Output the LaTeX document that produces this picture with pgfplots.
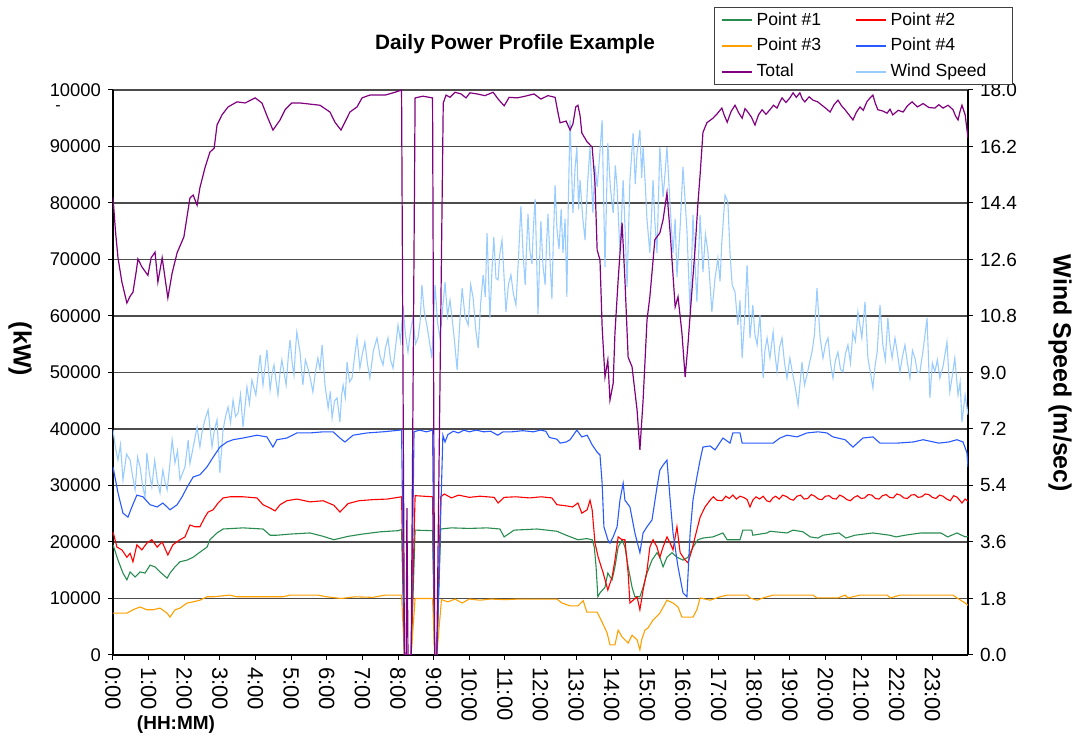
\documentclass[border=0pt]{standalone}
\usepackage{fontspec}
\setmainfont{Liberation Sans}
\usepackage{pgfplots}
\pgfplotsset{compat=1.18}
\definecolor{ptone}{RGB}{40,140,80}
\definecolor{pttwo}{RGB}{255,0,0}
\definecolor{ptthree}{RGB}{255,160,0}
\definecolor{ptfour}{RGB}{40,90,255}
\definecolor{pttotal}{RGB}{128,0,128}
\definecolor{ptwind}{RGB}{153,204,255}
\pgfplotsset{base/.style={scale only axis, width=427.5pt, height=282.5pt, xmin=0, xmax=24, scaled y ticks=false}}
\begin{document}
\begin{tikzpicture}
% ---------- grid + left/bottom axes ----------
\begin{axis}[base, ymin=0, ymax=100000,
  axis x line*=bottom, axis y line*=left,
  axis line style={-, black, line width=0.6pt},
  xtick={0,...,23},
  xticklabels={0:00,1:00,2:00,3:00,4:00,5:00,6:00,7:00,8:00,9:00,10:00,11:00,12:00,13:00,14:00,15:00,16:00,17:00,18:00,19:00,20:00,21:00,22:00,23:00},
  ytick={0,10000,20000,30000,40000,50000,60000,70000,80000,90000,100000},
  yticklabels={0,10000,20000,30000,40000,50000,60000,70000,80000,90000,10000},
  tick align=outside, major tick length=2.5pt,
  tick style={black, line width=0.5pt},
  x tick label style={rotate=-90, anchor=west, font=\fontsize{11}{13}\selectfont},
  y tick label style={font=\fontsize{9.2}{11}\selectfont},
  ymajorgrids, major grid style={black!70, line width=0.6pt},
]
\end{axis}
% ---------- wind speed (right axis) ----------
\begin{axis}[base, ymin=0, ymax=18,
  axis x line=none, axis y line*=right,
  axis line style={-, black, line width=0.6pt},
  ytick={0,1.8,3.6,5.4,7.2,9,10.8,12.6,14.4,16.2,18},
  yticklabels={0.0,1.8,3.6,5.4,7.2,9.0,10.8,12.6,14.4,16.2,18.0},
  tick align=outside, major tick length=2.5pt,
  tick style={black, line width=0.5pt},
  y tick label style={font=\fontsize{9.5}{11}\selectfont},
]
\addplot[ptwind, line width=0.55pt] table {
0.00 7.17
0.07 6.60
0.14 6.21
0.21 6.70
0.28 5.58
0.38 6.40
0.48 6.21
0.55 5.70
0.62 5.26
0.69 6.30
0.76 5.99
0.83 5.40
0.90 5.03
0.95 6.44
1.02 5.80
1.09 5.35
1.17 6.20
1.24 5.58
1.32 5.16
1.40 5.89
1.46 5.50
1.52 5.26
1.59 6.00
1.66 6.85
1.74 6.12
1.81 6.50
1.88 5.58
2.02 5.99
2.11 6.85
2.16 6.10
2.22 6.44
2.36 7.26
2.44 6.63
2.50 7.10
2.58 7.49
2.67 7.81
2.78 6.63
2.85 7.20
2.92 7.49
3.00 5.80
3.09 7.17
3.16 7.60
3.23 7.90
3.30 7.40
3.37 8.12
3.44 7.60
3.51 7.71
3.58 8.30
3.65 7.26
3.76 8.54
3.83 8.00
3.90 8.76
4.01 8.28
4.07 8.90
4.13 9.56
4.21 8.60
4.27 9.20
4.32 9.72
4.41 8.44
4.47 9.00
4.52 9.24
4.58 8.70
4.63 8.28
4.69 9.00
4.74 9.40
4.80 9.00
4.86 8.60
4.92 9.50
4.97 10.04
5.03 9.30
5.08 8.92
5.12 9.70
5.16 10.29
5.25 9.65
5.29 9.10
5.33 8.60
5.40 9.40
5.47 9.14
5.54 8.80
5.61 8.38
5.68 9.00
5.75 9.46
5.81 9.10
5.87 9.88
5.95 8.60
6.04 7.87
6.10 8.40
6.15 7.55
6.22 8.10
6.29 8.19
6.33 7.80
6.37 7.42
6.42 8.30
6.46 8.60
6.52 8.20
6.57 9.33
6.64 8.70
6.71 8.82
6.78 9.50
6.85 10.10
6.93 9.14
7.00 9.60
7.07 9.97
7.14 9.30
7.21 8.82
7.31 9.70
7.41 10.10
7.50 9.50
7.58 9.24
7.65 9.80
7.72 10.10
7.79 9.40
7.86 9.14
7.93 9.80
8.00 10.51
8.07 10.00
8.14 11.09
8.21 10.20
8.28 9.65
8.35 10.30
8.42 10.74
8.49 9.90
8.56 10.10
8.62 10.60
8.67 11.79
8.74 10.90
8.81 10.51
8.88 10.00
8.95 9.46
9.04 11.79
9.11 10.60
9.18 10.10
9.25 11.00
9.32 11.88
9.39 10.80
9.46 11.31
9.57 10.19
9.66 9.08
9.73 10.50
9.80 11.69
9.88 10.80
9.97 10.51
10.04 11.80
10.11 11.37
10.18 10.40
10.25 9.78
10.32 11.20
10.39 12.11
10.45 11.40
10.50 13.44
10.58 10.74
10.64 12.30
10.69 13.32
10.75 12.00
10.81 11.95
10.86 12.80
10.92 13.22
10.98 12.00
11.03 10.93
11.10 11.80
11.17 12.11
11.24 11.50
11.31 11.15
11.38 12.60
11.45 14.30
11.51 12.80
11.57 11.79
11.61 13.00
11.65 14.05
11.70 12.90
11.76 12.46
11.80 13.60
11.85 14.53
11.93 10.86
12.01 13.83
12.07 12.40
12.13 11.79
12.17 13.10
12.21 14.05
12.27 12.50
12.32 11.34
12.36 13.20
12.41 14.97
12.46 13.60
12.52 12.93
12.58 14.20
12.63 12.81
12.69 13.90
12.74 11.41
12.78 14.40
12.83 17.04
12.91 14.08
12.97 15.50
13.02 16.18
13.07 14.20
13.11 15.13
13.18 14.00
13.25 13.22
13.32 15.00
13.39 16.18
13.47 14.08
13.53 15.60
13.59 14.91
13.66 15.90
13.73 17.04
13.81 12.36
13.89 16.31
13.96 14.90
14.04 14.08
14.10 15.60
14.15 14.91
14.23 12.81
14.32 15.13
14.38 13.40
14.43 11.72
14.51 15.13
14.60 16.63
14.66 15.00
14.71 15.99
14.79 16.73
14.84 15.20
14.88 16.18
14.94 15.00
14.99 13.86
15.07 12.81
15.16 15.13
15.21 13.80
15.27 12.81
15.35 16.18
15.44 14.59
15.50 15.40
15.55 16.18
15.64 14.27
15.72 12.81
15.78 13.90
15.83 12.04
15.92 13.64
16.00 15.55
16.11 13.54
16.20 10.90
16.28 14.02
16.34 12.40
16.39 11.25
16.48 14.02
16.56 12.20
16.63 13.40
16.70 12.84
16.81 10.93
16.90 12.01
16.98 12.65
17.04 11.90
17.09 13.16
17.18 14.65
17.26 14.43
17.32 12.80
17.38 11.79
17.46 11.56
17.54 10.51
17.60 11.30
17.66 9.46
17.74 10.93
17.80 12.42
17.88 10.10
17.96 11.15
18.02 10.20
18.08 9.88
18.16 10.83
18.25 8.82
18.30 9.70
18.36 10.10
18.44 9.46
18.53 10.29
18.58 9.60
18.64 9.02
18.71 9.80
18.78 10.10
18.85 9.30
18.92 8.82
19.00 9.46
19.07 9.00
19.14 8.60
19.23 7.96
19.34 9.33
19.41 8.60
19.48 8.92
19.55 9.30
19.62 9.65
19.69 10.20
19.76 11.69
19.85 10.10
19.93 9.46
20.00 9.90
20.07 10.10
20.14 9.30
20.21 8.82
20.28 9.40
20.35 9.65
20.42 9.10
20.49 9.02
20.56 9.60
20.63 9.88
20.70 9.30
20.77 10.29
20.84 10.00
20.91 10.93
21.02 10.10
21.11 11.25
21.19 9.46
21.26 9.00
21.33 8.51
21.39 9.20
21.45 9.65
21.53 11.15
21.61 9.88
21.68 9.40
21.75 10.74
21.81 9.90
21.87 9.46
21.95 10.10
22.02 9.60
22.09 9.02
22.16 9.50
22.23 9.88
22.30 9.30
22.37 8.82
22.44 9.70
22.51 9.46
22.58 9.00
22.65 9.02
22.75 9.80
22.85 10.74
22.93 8.19
23.00 9.30
23.07 9.02
23.14 9.40
23.21 8.82
23.30 9.20
23.41 9.97
23.49 8.38
23.56 8.90
23.63 9.46
23.72 8.28
23.78 8.70
23.83 7.42
23.92 8.28
24.00 7.65
};
\end{axis}
% ---------- power series ----------
\begin{axis}[base, ymin=0, ymax=100000, hide axis,
  legend columns=2,
  legend cell align=left,
  legend image code/.code={\draw[#1] (0pt,0pt) -- (15pt,0pt);},
  legend image post style={line width=0.95pt},
  legend style={at={(1.0526,1.1469)}, anchor=north east, draw=black!75,
    font=\fontsize{8.8}{10}\selectfont, inner xsep=3pt, inner ysep=0.5pt, row sep=1pt,
    /tikz/every even column/.append style={column sep=2pt}},
]
\addlegendimage{draw=ptone}
\addlegendentry{\makebox[45pt][l]{Point \#1}}
\addlegendimage{draw=pttwo}
\addlegendentry{\makebox[56pt][l]{Point \#2}}
\addlegendimage{draw=ptthree}
\addlegendentry{\makebox[45pt][l]{Point \#3}}
\addlegendimage{draw=ptfour}
\addlegendentry{\makebox[56pt][l]{Point \#4}}
\addlegendimage{draw=pttotal}
\addlegendentry{\makebox[45pt][l]{Total}}
\addlegendimage{draw=ptwind}
\addlegendentry{\makebox[56pt][l]{Wind Speed}}
% Point #1
\addplot[ptone, line width=0.55pt, forget plot] table {
0.00 19500
0.14 16800
0.28 14500
0.39 13300
0.48 14700
0.62 13800
0.76 14700
0.90 14500
1.04 15900
1.18 15600
1.32 14700
1.52 13600
1.60 14500
1.74 15600
1.88 16500
2.08 16800
2.25 17300
2.44 18200
2.64 19100
2.72 20400
2.92 21600
3.09 22300
3.65 22500
4.21 22300
4.41 21200
4.60 21200
4.97 21400
5.53 21600
5.90 21000
6.20 20400
6.60 21000
7.00 21400
7.50 21800
8.00 22000
8.10 22200
8.18 0
8.37 0
8.48 22100
8.97 22000
9.03 0
9.09 0
9.20 22300
9.50 22500
10.00 22400
10.50 22500
10.86 22300
10.98 20900
11.26 22100
11.90 22300
12.46 21900
12.72 21200
13.05 20400
13.30 20600
13.45 20400
13.51 19100
13.56 15600
13.61 10300
13.67 11000
13.81 12000
13.89 14500
14.01 13300
14.09 15600
14.18 19100
14.29 20400
14.37 19100
14.46 15600
14.57 12000
14.65 10300
14.79 10300
14.88 12000
14.99 14500
15.13 16800
15.27 18100
15.35 17300
15.44 15600
15.55 17300
15.69 18100
15.83 17300
16.00 16800
16.14 17300
16.28 19100
16.42 20400
16.56 20700
16.84 20900
17.12 21600
17.24 20400
17.60 20400
17.68 22100
17.93 22100
17.96 21200
18.36 21600
18.44 21900
18.92 21600
19.09 22100
19.37 21800
19.57 20900
19.79 20700
19.93 21200
20.38 21600
20.57 20700
20.83 21200
21.33 21600
21.80 21200
21.98 20900
22.23 21200
22.68 21600
23.24 21600
23.43 20900
23.69 21600
23.92 20900
24.00 21000
};
% Point #2
\addplot[pttwo, line width=0.55pt, forget plot] table {
0.00 21800
0.11 19100
0.25 18600
0.39 17300
0.48 18000
0.56 16500
0.67 19500
0.81 18600
0.95 19800
1.09 20400
1.24 19100
1.38 20000
1.54 17700
1.68 19500
1.88 20400
2.02 20900
2.16 23000
2.30 22700
2.44 22700
2.58 24400
2.67 25300
2.81 25700
2.95 26900
3.09 27800
3.28 28000
3.65 28000
4.04 27800
4.21 26600
4.41 26000
4.55 25500
4.69 26600
4.88 27300
5.16 27600
5.53 27100
5.90 27300
6.20 26500
6.37 25300
6.60 26800
6.90 27300
7.30 27500
7.70 27600
8.10 28000
8.18 0
8.37 0
8.48 28200
8.97 28000
9.03 0
9.09 0
9.20 28000
9.30 28500
9.50 27800
9.70 28300
10.00 27900
10.30 28100
10.70 27900
10.81 26900
10.98 27900
11.30 28000
11.70 27800
12.02 28000
12.32 27800
12.46 26600
12.72 26400
12.90 26200
13.05 26900
13.16 25100
13.31 25700
13.39 27400
13.45 25700
13.53 19800
13.62 17300
13.76 14500
13.89 11500
14.01 13800
14.09 16800
14.18 20900
14.29 20400
14.37 20400
14.46 14500
14.51 9200
14.60 9700
14.71 10300
14.79 8000
14.88 11500
14.99 15000
15.07 19100
15.16 20400
15.27 19100
15.35 17300
15.44 19100
15.55 20900
15.64 19800
15.72 18600
15.83 22700
15.92 18100
16.06 16800
16.14 16300
16.25 18600
16.34 20900
16.48 24400
16.62 26200
16.76 27400
16.85 28000
16.95 27400
17.10 27300
17.20 28100
17.30 27700
17.40 28300
17.50 27600
17.60 28100
17.70 27900
17.80 27500
17.88 26200
17.96 27400
18.05 28000
18.15 27600
18.25 28100
18.35 27300
18.44 27100
18.52 27800
18.60 28100
18.70 27600
18.80 28300
18.92 28000
19.00 27600
19.10 27400
19.20 28100
19.30 28300
19.40 27600
19.50 27700
19.60 28400
19.70 28100
19.80 27600
19.90 27500
20.00 28100
20.10 28200
20.20 27700
20.30 27600
20.40 28300
20.50 28000
20.60 27500
20.70 27300
20.80 27900
20.90 28200
21.00 27700
21.10 27800
21.20 28400
21.30 28300
21.40 27700
21.50 27600
21.60 28200
21.70 28400
21.80 27900
21.90 27800
22.00 28500
22.10 28300
22.20 27800
22.30 27700
22.40 28300
22.50 28400
22.60 27900
22.70 28000
22.80 28500
22.90 28400
23.00 27900
23.10 27700
23.20 28300
23.30 28100
23.40 27600
23.50 27300
23.60 28200
23.70 27900
23.83 26900
23.92 27600
24.00 27200
};
% Point #3
\addplot[ptthree, line width=0.55pt, forget plot] table {
0.00 7400
0.20 7400
0.39 7400
0.56 8000
0.76 8500
0.95 8000
1.12 8000
1.32 8300
1.52 7400
1.60 6700
1.74 8000
1.88 8300
2.08 9200
2.25 9400
2.44 9700
2.64 10300
2.81 10300
3.28 10600
3.48 10300
4.04 10300
4.60 10300
4.77 10300
4.97 10600
5.53 10600
5.75 10600
6.00 10300
6.40 10000
6.80 10300
7.30 10200
7.64 10600
8.10 10600
8.18 0
8.37 0
8.48 10000
8.97 10000
9.03 0
9.09 0
9.22 9800
9.40 9400
9.60 9900
9.80 9200
10.00 9900
10.30 9700
10.60 9900
11.00 9800
11.40 9900
12.00 9900
12.46 9900
12.60 9200
12.83 8700
13.05 8700
13.20 9600
13.30 7600
13.59 7600
13.70 6200
13.73 5800
13.87 3900
13.95 1800
14.09 1800
14.18 4400
14.29 3200
14.37 2700
14.46 2100
14.57 3500
14.71 2700
14.79 900
14.84 2700
14.93 4400
15.02 4800
15.16 6200
15.35 7400
15.55 9700
15.72 9200
15.86 8500
15.97 6700
16.28 6700
16.39 8000
16.48 10100
16.76 9700
17.04 10300
17.24 10600
17.80 10600
17.88 10100
18.08 9700
18.25 10100
18.53 10600
19.65 10600
19.76 10100
20.35 10100
20.55 10600
20.63 10100
20.97 10600
21.73 10600
21.82 10100
22.09 10600
23.58 10600
23.69 10100
23.92 9200
24.00 8800
};
% Point #4
\addplot[ptfour, line width=0.55pt, forget plot] table {
0.00 33300
0.14 28700
0.28 25100
0.42 24400
0.53 26200
0.67 28300
0.84 28000
1.04 26600
1.24 26200
1.40 26900
1.60 25700
1.80 26600
1.94 28000
2.08 29700
2.25 31500
2.44 31900
2.64 33300
2.81 35000
3.00 36800
3.20 37700
3.37 38100
3.65 38400
4.04 38900
4.32 38600
4.49 36800
4.60 38100
4.88 38400
5.16 39300
5.53 39300
5.90 39500
6.18 39500
6.37 38400
6.51 37700
6.74 38900
7.13 39300
7.58 39500
8.06 39800
8.10 39800
8.18 0
8.37 0
8.45 39500
8.60 39800
8.80 39500
8.97 39800
9.03 0
9.09 0
9.26 38900
9.32 37700
9.40 39000
9.55 39600
9.70 39300
9.85 39800
10.00 39500
10.20 39800
10.40 39500
10.60 39600
10.80 38900
10.95 39500
11.20 39500
11.50 39700
11.80 39500
12.00 39800
12.15 39600
12.25 38500
12.46 38200
12.55 37500
12.72 37700
12.83 38100
13.02 39800
13.16 38600
13.31 38900
13.45 37200
13.59 35900
13.67 35400
13.73 30400
13.78 22700
13.89 20400
13.95 19800
14.04 20900
14.15 22700
14.23 27400
14.32 30400
14.37 27400
14.51 26200
14.65 21600
14.79 18100
14.88 21600
14.99 22700
15.13 23900
15.27 29700
15.35 32700
15.44 33600
15.55 34500
15.64 27400
15.72 21600
15.86 15600
16.00 11000
16.11 10300
16.20 21600
16.28 27400
16.39 31500
16.48 34500
16.56 36800
16.76 37000
16.90 36300
17.12 38400
17.32 37500
17.40 39300
17.60 39300
17.66 37500
17.96 37500
18.53 37500
18.72 38400
18.92 38900
19.20 38600
19.48 39300
19.79 39500
20.04 39300
20.21 38600
20.55 38100
20.77 36800
21.05 38400
21.33 38600
21.53 37500
22.01 37500
22.46 37700
22.74 38100
23.18 37500
23.46 37700
23.69 38100
23.86 37700
23.97 35800
24.00 33300
};
% Total
\addplot[pttotal, line width=0.6pt, forget plot] table {
0.00 81000
0.07 75000
0.14 70300
0.25 66000
0.39 62300
0.48 63500
0.56 64200
0.65 67800
0.70 70100
0.81 68700
0.98 67200
1.07 70300
1.18 71300
1.26 66000
1.38 70300
1.54 63200
1.66 67600
1.80 71200
1.99 74000
2.16 80900
2.25 81400
2.36 79600
2.44 82700
2.58 86200
2.72 89000
2.84 89700
2.92 93800
3.06 95600
3.23 97000
3.48 97900
3.71 97700
3.99 98600
4.18 97700
4.35 95000
4.49 92900
4.69 94700
4.83 96500
5.02 97700
5.25 97700
5.81 97300
6.09 96100
6.23 94300
6.40 92900
6.51 94300
6.65 96100
6.85 97000
6.99 98600
7.21 99100
7.64 99100
7.92 99600
8.10 100000
8.18 0
8.23 0
8.25 26000
8.28 0
8.37 0
8.48 98600
8.70 98900
8.97 98600
9.03 0
9.09 0
9.27 97700
9.35 99100
9.46 98700
9.60 99600
9.77 99300
9.91 98600
10.02 99500
10.22 99300
10.44 99000
10.67 99600
10.81 98400
10.98 97200
11.12 98700
11.34 98600
11.57 98900
11.82 99300
12.01 98400
12.21 99000
12.41 98700
12.49 96000
12.55 94200
12.72 94500
12.83 92900
12.91 94000
12.99 97000
13.05 97300
13.11 95500
13.16 92400
13.31 90800
13.45 89900
13.53 83500
13.59 71700
13.67 69900
13.73 58100
13.81 49200
13.89 52200
13.95 45100
14.04 48100
14.09 57000
14.18 66400
14.29 76500
14.37 66400
14.46 52700
14.57 51000
14.71 43400
14.79 36300
14.88 45100
14.99 59300
15.07 63400
15.21 73500
15.35 74700
15.44 77000
15.55 81800
15.64 74700
15.78 61600
15.86 63400
15.97 57000
16.06 49200
16.14 55000
16.20 60200
16.34 72000
16.42 80000
16.48 85000
16.56 92500
16.67 94200
16.84 95000
16.96 95800
17.09 96800
17.16 95500
17.24 94300
17.35 96200
17.46 97300
17.56 96000
17.66 95000
17.74 96700
17.82 96100
17.92 95200
18.02 93800
18.12 95600
18.22 96500
18.33 95700
18.44 96500
18.54 97300
18.64 96800
18.71 97800
18.78 98600
18.89 97800
19.00 98600
19.09 99500
19.18 98700
19.28 99500
19.35 98400
19.42 97900
19.54 98800
19.65 98200
19.78 97900
19.90 97300
20.02 96700
20.13 96100
20.24 97400
20.35 98200
20.45 97200
20.55 96500
20.66 95600
20.77 94700
20.87 96100
20.97 97000
21.06 96400
21.16 97900
21.25 98600
21.33 99100
21.40 97600
21.47 96500
21.60 96300
21.73 95900
21.81 96600
21.89 95600
22.04 96400
22.18 96100
22.30 97200
22.43 97900
22.58 97000
22.74 97600
22.90 96900
23.07 96800
23.18 97400
23.30 96800
23.44 97300
23.58 96500
23.65 95400
23.72 94700
23.78 96300
23.83 97300
23.92 95600
24.00 91500
};
\end{axis}
% ---------- texts ----------
\node[font=\bfseries\fontsize{10.4}{12}\selectfont] at (201pt,305.5pt) {Daily Power Profile Example};
\node[rotate=-90, font=\bfseries\fontsize{12.5}{14}\selectfont] at (-46.5pt,153pt) {(kW)};
\node[rotate=-90, font=\bfseries\fontsize{12.5}{14}\selectfont] at (473.5pt,140.8pt) {Wind Speed (m/sec)};
\node[font=\bfseries\fontsize{9.5}{11}\selectfont] at (31.5pt,-35pt) {(HH:MM)};
\node[font=\fontsize{8}{9}\selectfont] at (-27.5pt,273.5pt) {-};
\pgfresetboundingbox
\path[use as bounding box] (-56.5pt,-41.5pt) rectangle (479.5pt,327.5pt);
\end{tikzpicture}
\end{document}
